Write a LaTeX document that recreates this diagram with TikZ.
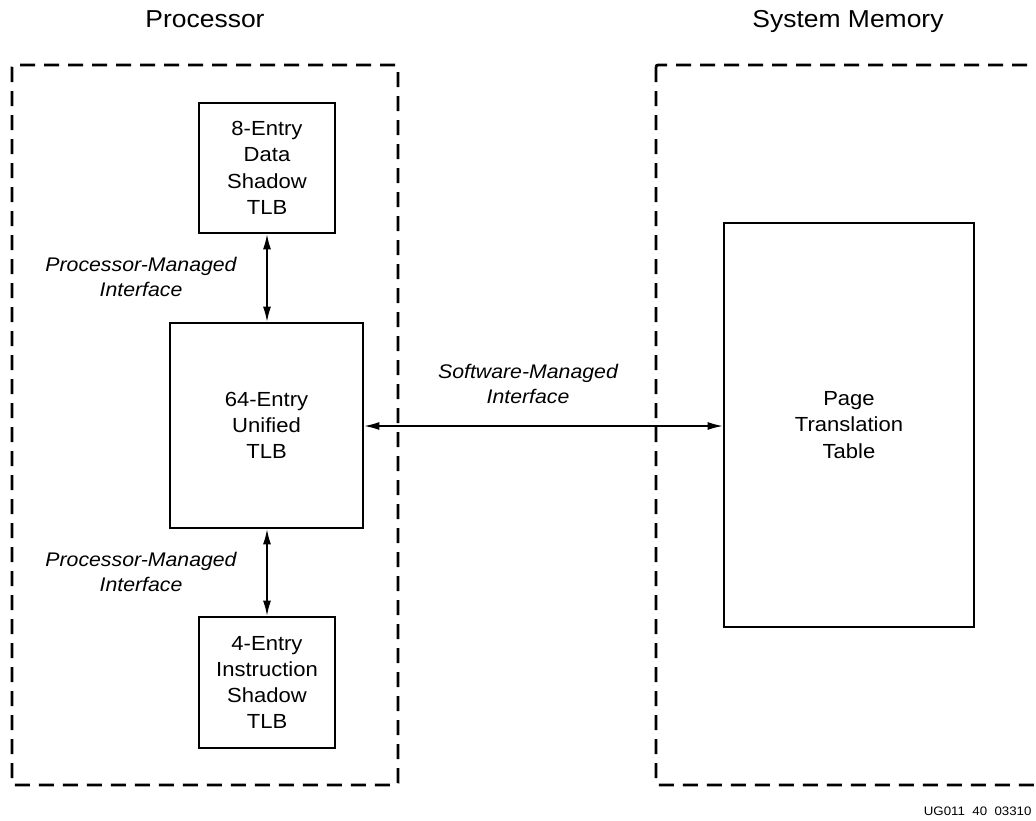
\documentclass[tikz,border=0pt]{standalone}
\usepackage{fontspec}
\setmainfont[FakeStretch=1.08]{Liberation Sans}
\usetikzlibrary{arrows.meta}
\begin{document}
\begin{tikzpicture}[x=1pt,y=-1pt,
  region/.style={draw,line width=2.8pt,dash pattern=on 15pt off 9pt,rounded corners=2pt},
  tlb/.style={draw,line width=2.8pt,align=center,font=\fontsize{20.4}{26.3}\selectfont,inner sep=0pt},
  lbl/.style={align=center,font=\fontsize{19.7}{25.5}\selectfont\itshape},
  ttl/.style={anchor=base,font=\fontsize{24.5}{28}\selectfont},
  link/.style={line width=1.2pt,{Latex[length=15pt,width=8pt]}-{Latex[length=15pt,width=8pt]}}]
\clip (0,0) rectangle (1036,820);
\fill[white] (0,0) rectangle (1036,820);
% regions
\draw[region] (12,65) rectangle (398,785);
\draw[region] (656,65) rectangle (1060,785);
\node[ttl] (tproc) at (205,27) {Processor};
\node[ttl] (tmem) at (848,27) {System Memory};
% boxes
\node[tlb,minimum width=136pt,minimum height=130pt] (dtlb) at (267,168) {8-Entry\\Data\\Shadow\\TLB};
\node[tlb,minimum width=193pt,minimum height=205pt] (utlb) at (266.5,425.5) {64-Entry\\Unified\\TLB};
\node[tlb,minimum width=136pt,minimum height=131pt] (itlb) at (267,682.5) {4-Entry\\Instruction\\Shadow\\TLB};
\node[tlb,minimum width=250pt,minimum height=404pt] (ptt) at (849,425) {Page\\Translation\\Table};
% connectors
\draw[link] (dtlb.south -| 267,0) -- (utlb.north -| 267,0);
\draw[link] (utlb.south -| 267,0) -- (itlb.north -| 267,0);
\draw[link] (utlb.east |- 0,426) -- (ptt.west |- 0,426);
% labels
\node[lbl] (l1) at (141,277) {Processor-Managed\\Interface};
\node[lbl] (l2) at (141,572) {Processor-Managed\\Interface};
\node[lbl] (l3) at (528,384) {Software-Managed\\Interface};
\node[anchor=base east,font=\fontsize{12.3}{14}\selectfont] (ug) at (1035,815) {UG011\ \ 40\ \ 03310};
\end{tikzpicture}
\end{document}
